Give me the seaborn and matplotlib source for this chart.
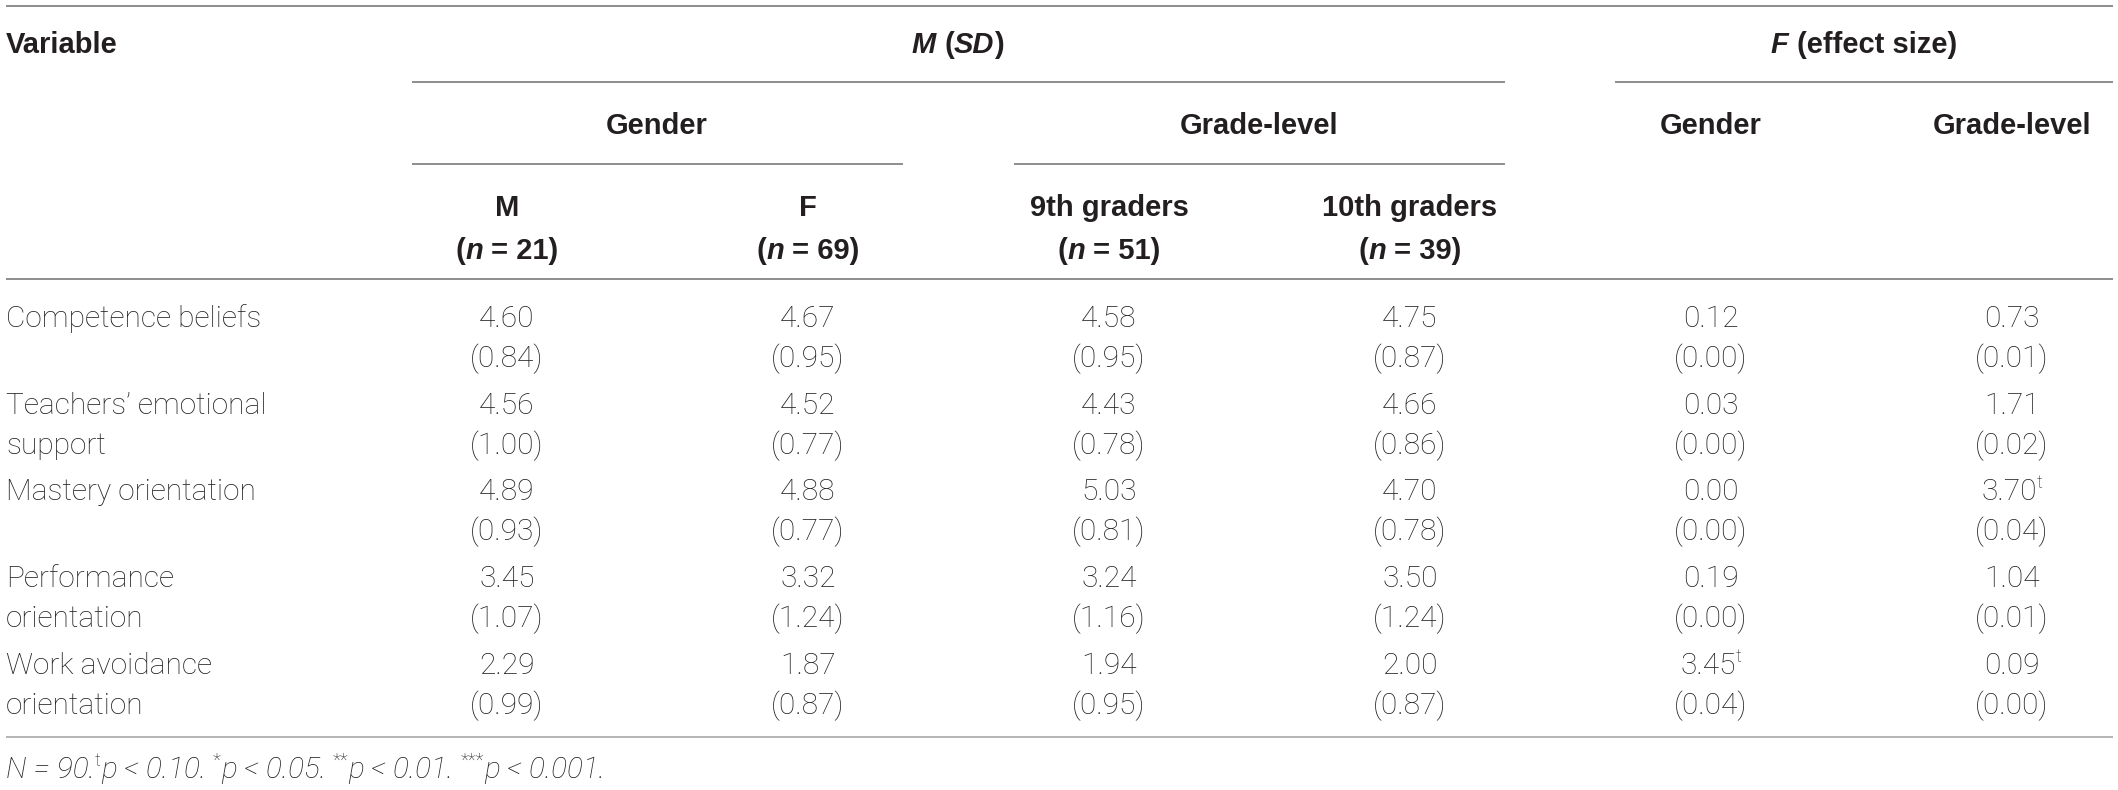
import numpy as np
import pandas as pd
import seaborn as sns
import matplotlib
matplotlib.use("Agg")
from matplotlib import pyplot as plt
from matplotlib.colors import ListedColormap
from matplotlib.transforms import offset_copy

# valores da tabela
variables = [
    ["Competence beliefs"],
    ["Teachers\u2019 emotional", "support"],
    ["Mastery orientation"],
    ["Performance", "orientation"],
    ["Work avoidance", "orientation"],
]
col_heads = ["M", "F", "9th graders", "10th graders"]
col_n = [21, 69, 51, 39]

male_m = [4.60, 4.56, 4.89, 3.45, 2.29]
male_sd = [0.84, 1.00, 0.93, 1.07, 0.99]
female_m = [4.67, 4.52, 4.88, 3.32, 1.87]
female_sd = [0.95, 0.77, 0.77, 1.24, 0.87]
g9_m = [4.58, 4.43, 5.03, 3.24, 1.94]
g9_sd = [0.95, 0.78, 0.81, 1.16, 0.95]
g10_m = [4.75, 4.66, 4.70, 3.50, 2.00]
g10_sd = [0.87, 0.86, 0.78, 1.24, 0.87]
f_gender = [0.12, 0.03, 0.00, 0.19, 3.45]
eff_gender = [0.00, 0.00, 0.00, 0.00, 0.04]
f_grade = [0.73, 1.71, 3.70, 1.04, 0.09]
eff_grade = [0.01, 0.02, 0.04, 0.01, 0.00]
mark_gender = ["", "", "", "", "t"]
mark_grade = ["", "", "t", "", ""]

W, H = 2118, 790
INK = "#231f20"
LINE = "#7a7a7a"

sns.set_theme(style="white")
plt.rcParams["font.family"] = ["Liberation Sans", "DejaVu Sans"]

HEAD = dict(family=["Liberation Sans", "DejaVu Sans"], weight="bold", size=21, color=INK)
HEAD_IT = dict(HEAD, style="italic")
BODY = dict(family=["Roboto", "Liberation Sans"], weight="light", size=21.5, color=INK)
BODY_IT = dict(BODY, style="italic")

fig = plt.figure(figsize=(W / 100, H / 100), dpi=100)
ax = fig.add_axes([0, 0, 1, 1])
ax.set_xlim(0, W)
ax.set_ylim(H, 0)
ax.axis("off")
renderer = fig.canvas.get_renderer()


def text_width(a, s, kw):
    t = a.text(0, 0, s, **kw)
    w = t.get_window_extent(renderer).width
    t.remove()
    return w


def rich(a, x, y, runs, ha="center"):
    """Escreve texto com trechos de estilos diferentes (runs = (texto, estilo, sobrescrito))."""
    items = []
    total = 0
    for s, style, sup in runs:
        kw = dict(style)
        if sup:
            kw["size"] = style["size"] * 0.62
        sp = text_width(a, "x x", kw) - text_width(a, "xx", kw)
        core = s.strip()
        lead = sp * (len(s) - len(s.lstrip()))
        trail = sp * (len(s) - len(s.rstrip()))
        t = a.text(x, y, core, va="baseline", ha="left", **kw)
        w = t.get_window_extent(renderer).width if core else 0
        items.append((t, total + lead, 12 if sup else 0))
        total += lead + w + trail
    start = -total / 2 if ha == "center" else 0
    for t, off, rise in items:
        t.set_transform(offset_copy(a.transData, fig=fig, x=start + off, y=rise, units="dots"))


# linhas horizontais
ax.hlines(6, 6, 2113, color=LINE, lw=1.2)
ax.hlines([82, 82], [412, 1615], [1505, 2113], color=LINE, lw=1.2)
ax.hlines([164, 164], [412, 1014], [903, 1505], color=LINE, lw=1.2)
ax.hlines(279, 6, 2113, color=LINE, lw=1.2)
ax.hlines(737, 6, 2113, color="#a8a8a8", lw=1.2)

# cabeçalho
rich(ax, 6, 53, [("Variable", HEAD, False)], ha="left")
rich(ax, 958, 53, [("M", HEAD_IT, False), (" (", HEAD, False), ("SD", HEAD_IT, False), (")", HEAD, False)])
rich(ax, 1864, 53, [("F", HEAD_IT, False), (" (effect size)", HEAD, False)])
for xc, s in zip([657, 1259, 1711, 2012], ["Gender", "Grade-level", "Gender", "Grade-level"]):
    rich(ax, xc, 134, [(s, HEAD, False)])

col_x = [507 + 301 * j for j in range(6)]
for xc, s, n in zip(col_x, col_heads, col_n):
    rich(ax, xc, 216, [(s, HEAD, False)])
    rich(ax, xc, 259, [("(", HEAD, False), ("n", HEAD_IT, False), (f" = {n})", HEAD, False)])

# nomes das variáveis
row_h = 86.75
for i, lines in enumerate(variables):
    for k, line in enumerate(lines):
        rich(ax, 6, 327 + i * row_h + k * 40, [(line, BODY, False)], ha="left")

# corpo da tabela via heatmap (células brancas)
body = pd.DataFrame(
    {"M": male_m, "F": female_m, "9th": g9_m, "10th": g10_m, "F_gender": f_gender, "F_grade": f_grade}
)
top = 292.5
hax = fig.add_axes([356.5 / W, 1 - (top + 5 * row_h) / H, 6 * 301 / W, 5 * row_h / H])
sns.heatmap(body, ax=hax, cmap=ListedColormap(["white"]), cbar=False,
            xticklabels=False, yticklabels=False, linewidths=0)
hax.set_axis_off()

means = [male_m, female_m, g9_m, g10_m]
sds = [male_sd, female_sd, g9_sd, g10_sd]
y1 = (23.5 + 11) / row_h
y2 = (63.5 + 11) / row_h
for i in range(len(variables)):
    for j in range(4):
        rich(hax, j + 0.5, i + y1, [(f"{means[j][i]:.2f}", BODY, False)])
        rich(hax, j + 0.5, i + y2, [(f"({sds[j][i]:.2f})", BODY, False)])
    for j, (fv, ev, mk) in enumerate([(f_gender, eff_gender, mark_gender), (f_grade, eff_grade, mark_grade)]):
        runs = [(f"{fv[i]:.2f}", BODY, False)]
        if mk[i]:
            runs.append((mk[i], BODY, True))
        rich(hax, 4 + j + 0.5, i + y1, runs)
        rich(hax, 4 + j + 0.5, i + y2, [(f"({ev[i]:.2f})", BODY, False)])

# nota de rodapé
rich(ax, 6, 778, [
    ("N = 90.", BODY_IT, False), ("t", BODY, True), ("p < 0.10. ", BODY_IT, False),
    ("*", BODY, True), ("p < 0.05. ", BODY_IT, False),
    ("**", BODY, True), ("p < 0.01. ", BODY_IT, False),
    ("***", BODY, True), ("p < 0.001.", BODY_IT, False),
], ha="left")

fig.savefig("out.png", dpi=100, facecolor="white")
